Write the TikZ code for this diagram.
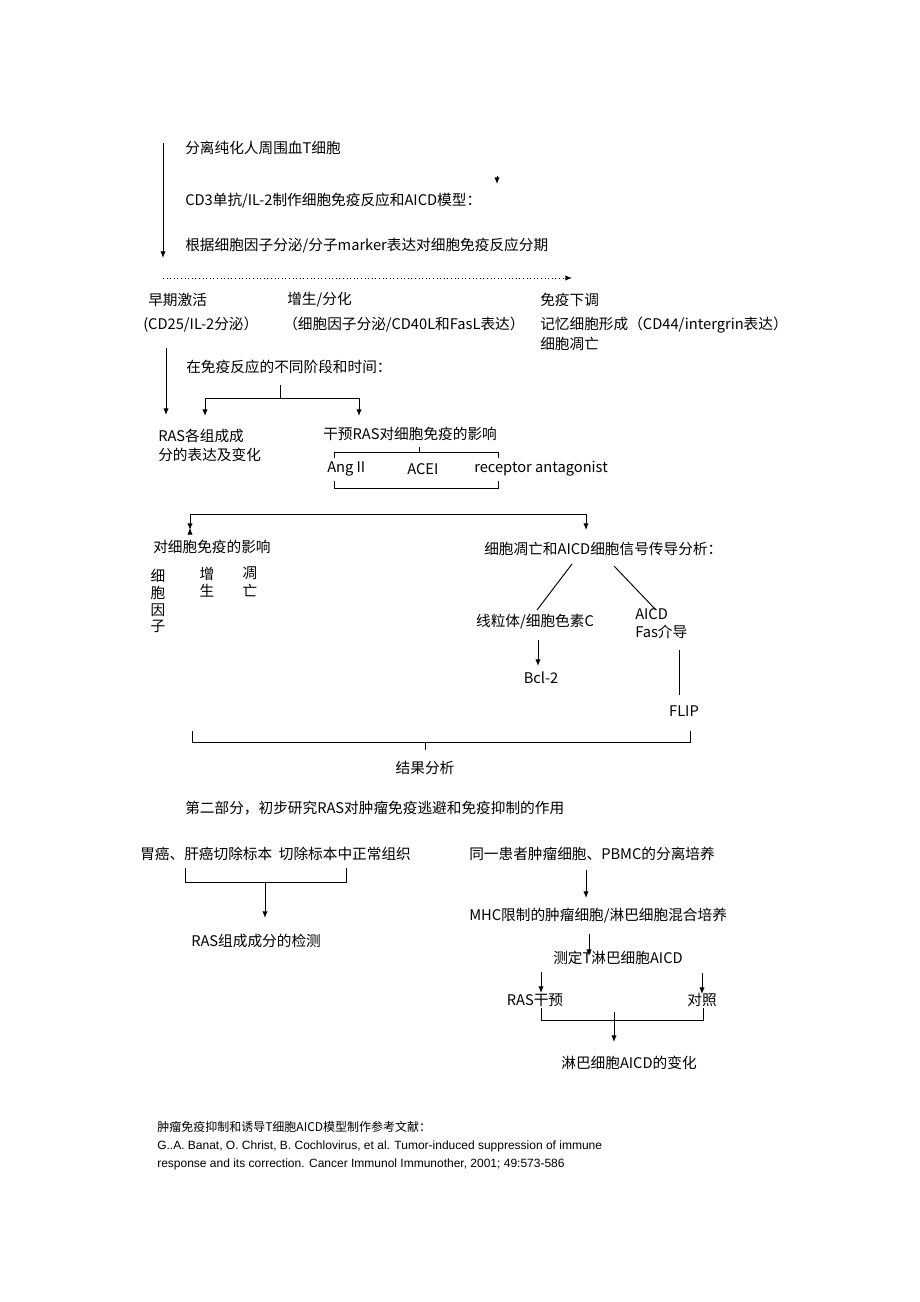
\documentclass[tikz,border=0pt]{standalone}
\usepackage{fontspec}
\setmainfont{Noto Sans CJK SC}
\newfontfamily\lat{Liberation Sans}
\usetikzlibrary{arrows.meta}
\begin{document}
\begin{tikzpicture}[x=0.75pt,y=-0.75pt,
  t/.style={anchor=west,inner sep=0pt,font=\fontsize{11}{13}\selectfont},
  tc/.style={anchor=center,inner sep=0pt,font=\fontsize{11}{13}\selectfont},
  ln/.style={line width=0.7pt},
  ar/.style={line width=0.7pt,-{Latex[length=5pt,width=4pt]}}]
\useasboundingbox (0,0) rectangle (920,1302);
% top part
\coordinate (a1) at (163,143); \coordinate (a2) at (163,258);
\draw[ar] (a1) -- (a2);
\node[t] (n1) at (185,148) {分离纯化人周围血T细胞};
\coordinate (s1) at (497,176); \coordinate (s2) at (497,184);
\draw[ar] (s1) -- (s2);
\node[t] (n2) at (185,201) {CD3单抗/IL-2制作细胞免疫反应和AICD模型：};
\node[t] (n3) at (185,246) {根据细胞因子分泌/分子marker表达对细胞免疫反应分期};
\coordinate (d1) at (163,278); \coordinate (d2) at (572,278);
\draw[ar,dotted] (d1) -- (d2);
\node[t] (p1) at (148,300) {早期激活};
\node[t] (p2) at (287,300) {增生/分化};
\node[t] (p3) at (540,300) {免疫下调};
\node[t] (q1) at (143,325) {(CD25/IL-2分泌）};
\node[t] (q2) at (283,325) {（细胞因子分泌/CD40L和FasL表达）};
\node[t] (q3) at (540,325) {记忆细胞形成（CD44/intergrin表达）};
\node[t] (q4) at (540,344) {细胞凋亡};
\coordinate (b1) at (166,348); \coordinate (b2) at (166,415);
\draw[ar] (b1) -- (b2);
\node[t] (r1) at (186,367) {在免疫反应的不同阶段和时间：};
\coordinate (f0) at (280,385); \coordinate (f1) at (280,398);
\coordinate (fl) at (205,398); \coordinate (fr) at (359,398);
\coordinate (fl2) at (205,416); \coordinate (fr2) at (359,416);
\draw[ln] (f0) -- (f1);
\draw[ar] (f1) -- (fl) -- (fl2);
\draw[ar] (f1) -- (fr) -- (fr2);
\node[t] (ras1) at (158,436) {RAS各组成成};
\node[t] (ras2) at (158,455) {分的表达及变化};
\node[t] (gy) at (323,434) {干预RAS对细胞免疫的影响};
\coordinate (g0) at (419,447);
\draw[ln] (g0) -- (419,452);
\draw[ln] (334,458) -- (334,452) -- (498,452) -- (498,458);
\node[t] (ang) at (327,469) {Ang II};
\node[t] (acei) at (407,469) {ACEI};
\node[t] (rec) at (474,469) {receptor antagonist};
\draw[ln] (334,481) -- (334,488) -- (498,488) -- (498,481);
% second fork
\coordinate (h1) at (190,514); \coordinate (h2) at (586,514);
\draw[ar] (190,530) -- (190,528);
\draw[ln] (190,528) -- (h1) -- (h2) -- (586,528);
\draw[ar] (586,526) -- (586,530);
\draw[ar] (190,526) -- (190,530);
\node[t] (e1) at (153,547) {对细胞免疫的影响};
\node[t] (e2) at (484,549) {细胞凋亡和AICD细胞信号传导分析：};
\node[tc] (v1) at (158,601) {\shortstack{细\\胞\\因\\子}};
\node[tc] (v2) at (207,582) {\shortstack{增\\生}};
\node[tc] (v3) at (250,582) {\shortstack{凋\\亡}};
\draw[ln] (572,564) -- (537,610);
\draw[ln] (614,566) -- (656,610);
\node[tc] (mt) at (535,622) {线粒体/细胞色素C};
\node[t] (ai) at (635,614) {AICD};
\node[t] (fas) at (635,632) {Fas介导};
\draw[ar] (538,640) -- (538,666);
\node[tc] (bcl) at (541,678) {Bcl-2};
\draw[ln] (679,650) -- (679,695);
\node[tc] (flip) at (684,711) {FLIP};
\draw[ln] (192,731) -- (192,742) -- (690,742) -- (690,731);
\draw[ln] (425,742) -- (425,750);
\node[tc] (jg) at (425,768) {结果分析};
% part 2
\node[t] (pt2) at (185,808) {第二部分，初步研究RAS对肿瘤免疫逃避和免疫抑制的作用};
\node[t] (w1) at (140,854) {胃癌、肝癌切除标本\ \ 切除标本中正常组织};
\node[t] (w2) at (469,854) {同一患者肿瘤细胞、PBMC的分离培养};
\draw[ln] (185,868) -- (185,882) -- (346,882) -- (346,868);
\draw[ar] (265,882) -- (265,918);
\node[t] (rd) at (191,941) {RAS组成成分的检测};
\draw[ar] (586,870) -- (586,898);
\node[t] (mhc) at (469,916) {MHC限制的肿瘤细胞/淋巴细胞混合培养};
\draw[ar] (589,934) -- (589,956);
\node[t] (cd) at (553,958) {测定T淋巴细胞AICD};
\draw[ar] (541,972) -- (541,993);
\draw[ar] (702,973) -- (702,994);
\node[tc] (rg) at (535,1000) {RAS干预};
\node[tc] (dz) at (702,1000) {对照};
\draw[ln] (541,1008) -- (541,1020) -- (703,1020) -- (703,1008);
\draw[ar] (614,1012) -- (614,1042);
\node[tc] (lb) at (629,1063) {淋巴细胞AICD的变化};
% references
\node[t,font=\fontsize{9}{11}\selectfont] (ref0) at (157,1127) {肿瘤免疫抑制和诱导T细胞AICD模型制作参考文献：};
\node[t,font=\lat\fontsize{9}{11}\selectfont] (ref1) at (157,1146) {G..A. Banat, O. Christ, B. Cochlovirus, et al. Tumor-induced suppression of immune};
\node[t,font=\lat\fontsize{9}{11}\selectfont] (ref2) at (157,1164) {response and its correction. Cancer Immunol Immunother, 2001; 49:573-586};
\end{tikzpicture}
\end{document}
